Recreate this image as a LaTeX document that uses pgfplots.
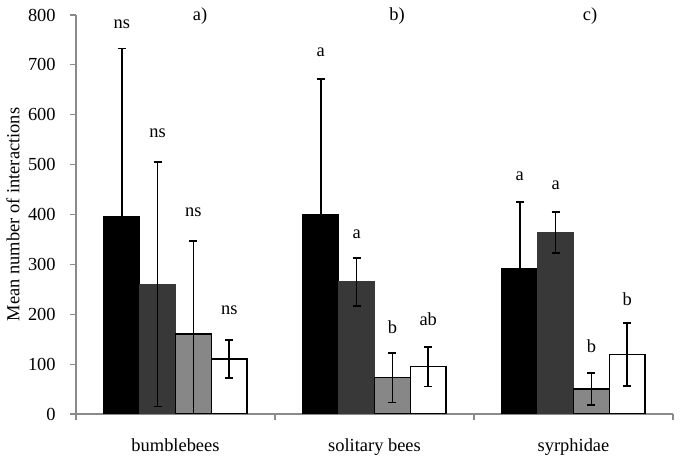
\documentclass[border=0pt]{standalone}
\usepackage{fontspec}
\setmainfont{Liberation Serif}
\usepackage{pgfplots}
\pgfplotsset{compat=1.18}
\definecolor{dgray}{HTML}{383838}
\definecolor{mgray}{HTML}{878787}
\definecolor{axgray}{HTML}{8A8A8A}
\pgfplotsset{myerr/.style={error bars/.cd, y dir=both, y explicit,
    error bar style={black, line width=1.8bp, solid},
    error mark=-,
    error mark options={rotate=90, black, line width=1.8bp, mark size=4bp}}}
\begin{document}
\fontsize{18.5}{22}\selectfont
\begin{tikzpicture}
\begin{axis}[
  scale only axis, width=597bp, height=399bp,
  xmin=-0.5, xmax=2.5, ymin=0, ymax=800,
  ybar, bar width=0.18,
  axis lines*=left,
  axis line style={axgray, line width=1.2pt},
  ytick={0,100,...,800},
  xtick={0,1,2},
  xticklabels={bumblebees, solitary bees, syrphidae},
  major x tick style={draw=none},
  minor xtick={-0.5,0.5,1.5,2.5},
  tick style={axgray, line width=1.2pt},
  tick align=outside,
  major tick length=6bp, minor tick length=6bp,
  /pgf/number format/assume math mode=true,
  yticklabel style={xshift=-8bp},
  xticklabel style={yshift=-12bp},
  ylabel={Mean number of interactions},
  ylabel style={at={(axis description cs:-0.1055,0.5)}, anchor=center},
  clip mode=individual,
]
\addplot[fill=black, draw=black, line width=1.6bp, bar shift=-0.27, myerr] coordinates {
  (0,395) +- (0,338)
  (1,400) +- (0,271)
  (2,291) +- (0,134)
};
\addplot[fill=dgray, draw=dgray, line width=1.6bp, bar shift=-0.09, myerr] coordinates {
  (0,260) +- (0,245)
  (1,265) +- (0,48)
  (2,364) +- (0,41)
};
\addplot[fill=mgray, draw=black, line width=1.6bp, bar shift=0.09, myerr] coordinates {
  (0,160) +- (0,187)
  (1,73) +- (0,50)
  (2,50) +- (0,32)
};
\addplot[fill=white, draw=black, line width=1.6bp, bar shift=0.27, myerr] coordinates {
  (0,110) +- (0,38)
  (1,95) +- (0,40)
  (2,119) +- (0,63)
};
\node[anchor=base] at (axis cs:-0.27,772) {ns};
\node[anchor=base] at (axis cs:-0.09,555) {ns};
\node[anchor=base] at (axis cs:0.09,395) {ns};
\node[anchor=base] at (axis cs:0.27,200) {ns};
\node[anchor=base] at (axis cs:0.73,716) {a};
\node[anchor=base] at (axis cs:0.91,351) {a};
\node[anchor=base] at (axis cs:1.09,161) {b};
\node[anchor=base] at (axis cs:1.27,177) {ab};
\node[anchor=base] at (axis cs:1.73,468) {a};
\node[anchor=base] at (axis cs:1.91,451) {a};
\node[anchor=base] at (axis cs:2.09,123) {b};
\node[anchor=base] at (axis cs:2.27,217) {b};
\node[anchor=base] at (axis cs:0.123,788) {a)};
\node[anchor=base] at (axis cs:1.113,788) {b)};
\node[anchor=base] at (axis cs:2.083,788) {c)};
\end{axis}
\pgfresetboundingbox
\path ([shift={(-76bp,-48bp)}]current axis.south west) rectangle ([shift={(7bp,15bp)}]current axis.north east);
\end{tikzpicture}
\end{document}
